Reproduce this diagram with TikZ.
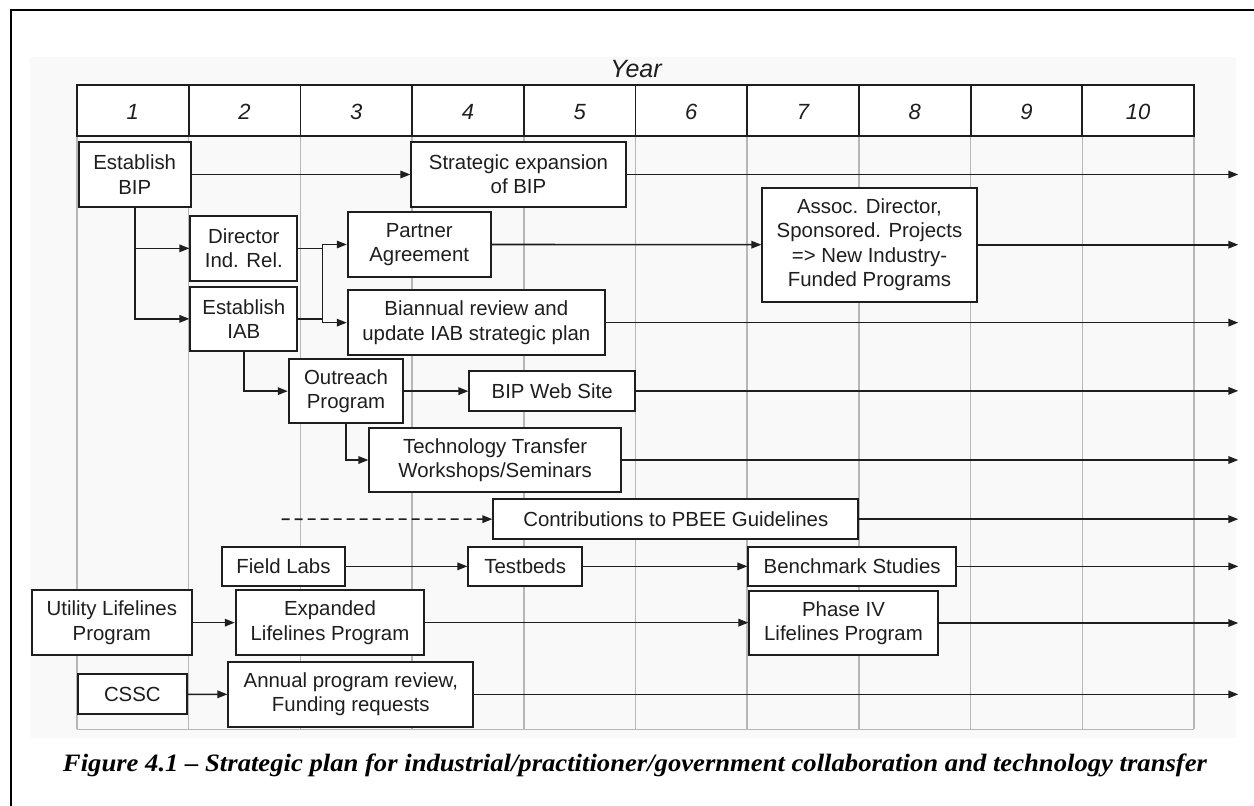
\documentclass[tikz,border=0pt]{standalone}
\usepackage{fontspec}
\setmainfont{Liberation Serif}
\newfontfamily\arialf{Liberation Sans}
\usetikzlibrary{arrows.meta}
\definecolor{gridg}{RGB}{180,184,187}
\definecolor{ink}{RGB}{30,30,30}
\definecolor{bgg}{RGB}{249,249,249}
\tikzset{
 bx/.style={draw=ink, fill=white, line width=1.8pt, inner sep=0pt, align=center, font=\arialf\fontsize{20.4}{24.4}\selectfont, text=ink},
 arr/.style={draw=ink, line width=1.6pt, -{Triangle[length=10pt,width=7.5pt]}},
 ln/.style={draw=ink, line width=1.6pt},
 gridln/.style={draw=gridg, line width=1.5pt},
 hdr/.style={draw=ink, line width=1.8pt},
 yearnum/.style={font=\arialf\itshape\fontsize{22}{26}\selectfont, text=ink, anchor=base, inner sep=0pt},
}
\newcommand\bx[6]{\node[bx, minimum width={(#4-#2)*1pt}, minimum height={(#5-#3)*1pt}] (#1) at ({(#2+#4)/2},{(#3+#5)/2}) {#6};}
\begin{document}
\begin{tikzpicture}[x=1pt,y=-1pt]
\useasboundingbox (0,0) rectangle (1254,806);
\clip (0,0) rectangle (1254,806);
\fill[white] (0,0) rectangle (1254,806);
\fill[bgg] (30,57) rectangle (1236,738);
\draw[black, line width=2.2pt] (11,820) -- (11,10) -- (1270,10);
% grid
\foreach \i in {0,...,10}{
  \draw[gridln] ({77+\i*111.7},136) -- ({77+\i*111.7},729.3);
}
\draw[gridln] (77,729.3) -- (1194,729.3);
% header
\fill[white] (77,85) rectangle (1194,136);
\draw[hdr] (77,85) rectangle (1194,136);
\foreach \i in {1,...,9}{
  \draw[hdr] ({77+\i*111.7},85) -- ({77+\i*111.7},136);
}
\foreach \i in {1,...,10}{
  \node[yearnum] (y\i) at ({77+(\i-0.5)*111.7},119.3) {\i};
}
\node[font=\arialf\itshape\fontsize{25}{28}\selectfont, text=ink, anchor=base, inner sep=0pt] (year) at (636,77.5) {Year};
% coordinates
\coordinate (R) at (1238.3,0);
\coordinate (busT) at (322.3,0);
\coordinate (dstart) at (281.7,519.2);
% boxes
\bx{bip}{78.7}{142.3}{190.7}{206.7}{Establish\\BIP}
\bx{strat}{411.3}{142.3}{625.7}{206.7}{Strategic expansion\\of BIP}
\bx{dir}{190.3}{216}{297.3}{280.7}{Director\\Ind. Rel.}
\bx{iab}{190.3}{286.7}{297.3}{351}{Establish\\IAB}
\bx{partner}{347.7}{212.3}{490.7}{276.7}{Partner\\Agreement}
\bx{biann}{347.7}{290.3}{605}{355}{Biannual review and\\update IAB strategic plan}
\bx{assoc}{762.3}{187.7}{976.7}{301.7}{Assoc. Director,\\Sponsored. Projects\\=> New Industry-\\Funded Programs}
\bx{outreach}{288.7}{359}{403.3}{423.3}{Outreach\\Program}
\bx{web}{469.3}{371}{635}{410.7}{BIP Web Site}
\bx{tt}{369.3}{427.7}{621}{492.3}{Technology Transfer\\Workshops/Seminars}
\bx{contrib}{493.3}{499.3}{858.3}{539}{Contributions to PBEE Guidelines}
\bx{field}{221.7}{546.7}{345.3}{586}{Field Labs}
\bx{testbeds}{468.3}{546.7}{582}{586}{Testbeds}
\bx{bench}{748.3}{546.7}{956}{586}{Benchmark Studies}
\bx{util}{31.7}{590.3}{192}{655}{Utility Lifelines\\Program}
\bx{exp}{235.7}{590.3}{424.3}{655}{Expanded\\Lifelines Program}
\bx{phase}{749.3}{591}{937.7}{655}{Phase IV\\Lifelines Program}
\bx{cssc}{77.7}{674.3}{187}{714.3}{CSSC}
\bx{annual}{228.3}{662}{473.3}{726.7}{Annual program review,\\Funding requests}
% connectors
\draw[arr] (bip.east) -- (strat.west);
\draw[arr] (strat.east) -- (strat.east -| R);
\draw[arr] (bip.south) |- (dir.west);
\draw[arr] (bip.south) |- (iab.west);
\draw[ln] (dir.east) -- (dir.east -| busT);
\draw[ln] (iab.east) -- (iab.east -| busT);
\draw[ln] (partner.west -| busT) -- (biann.west -| busT);
\draw[arr] (partner.west -| busT) -- (partner.west);
\draw[arr] (biann.west -| busT) -- (biann.west);
\draw[arr] (partner.east) -- (assoc.west);
\draw[arr] (assoc.east) -- (assoc.east -| R);
\draw[arr] (biann.east) -- (biann.east -| R);
\draw[arr] (iab.south) |- (outreach.west);
\draw[arr] (outreach.east) -- (outreach.east -| web.west);
\draw[arr] (web.east) -- (web.east -| R);
\draw[arr] (outreach.south) |- (tt.west);
\draw[arr] (tt.east) -- (tt.east -| R);
\draw[arr, dash pattern=on 8pt off 5pt] (dstart) -- (contrib.west);
\draw[arr] (contrib.east) -- (contrib.east -| R);
\draw[arr] (field.east) -- (testbeds.west);
\draw[arr] (testbeds.east) -- (bench.west);
\draw[arr] (bench.east) -- (bench.east -| R);
\draw[arr] (util.east) -- (exp.west);
\draw[arr] (exp.east) -- (exp.east -| phase.west);
\draw[arr] (phase.east) -- (phase.east -| R);
\draw[arr] (cssc.east) -- (annual.west);
\draw[arr] (annual.east) -- (annual.east -| R);
% caption
\node[anchor=base, inner sep=0pt, font=\fontsize{25}{28}\selectfont\bfseries\itshape] (cap) at (635,771) {\resizebox{1144pt}{\height}{Figure 4.1 – Strategic plan for industrial/practitioner/government collaboration and technology transfer}};
\end{tikzpicture}
\end{document}
